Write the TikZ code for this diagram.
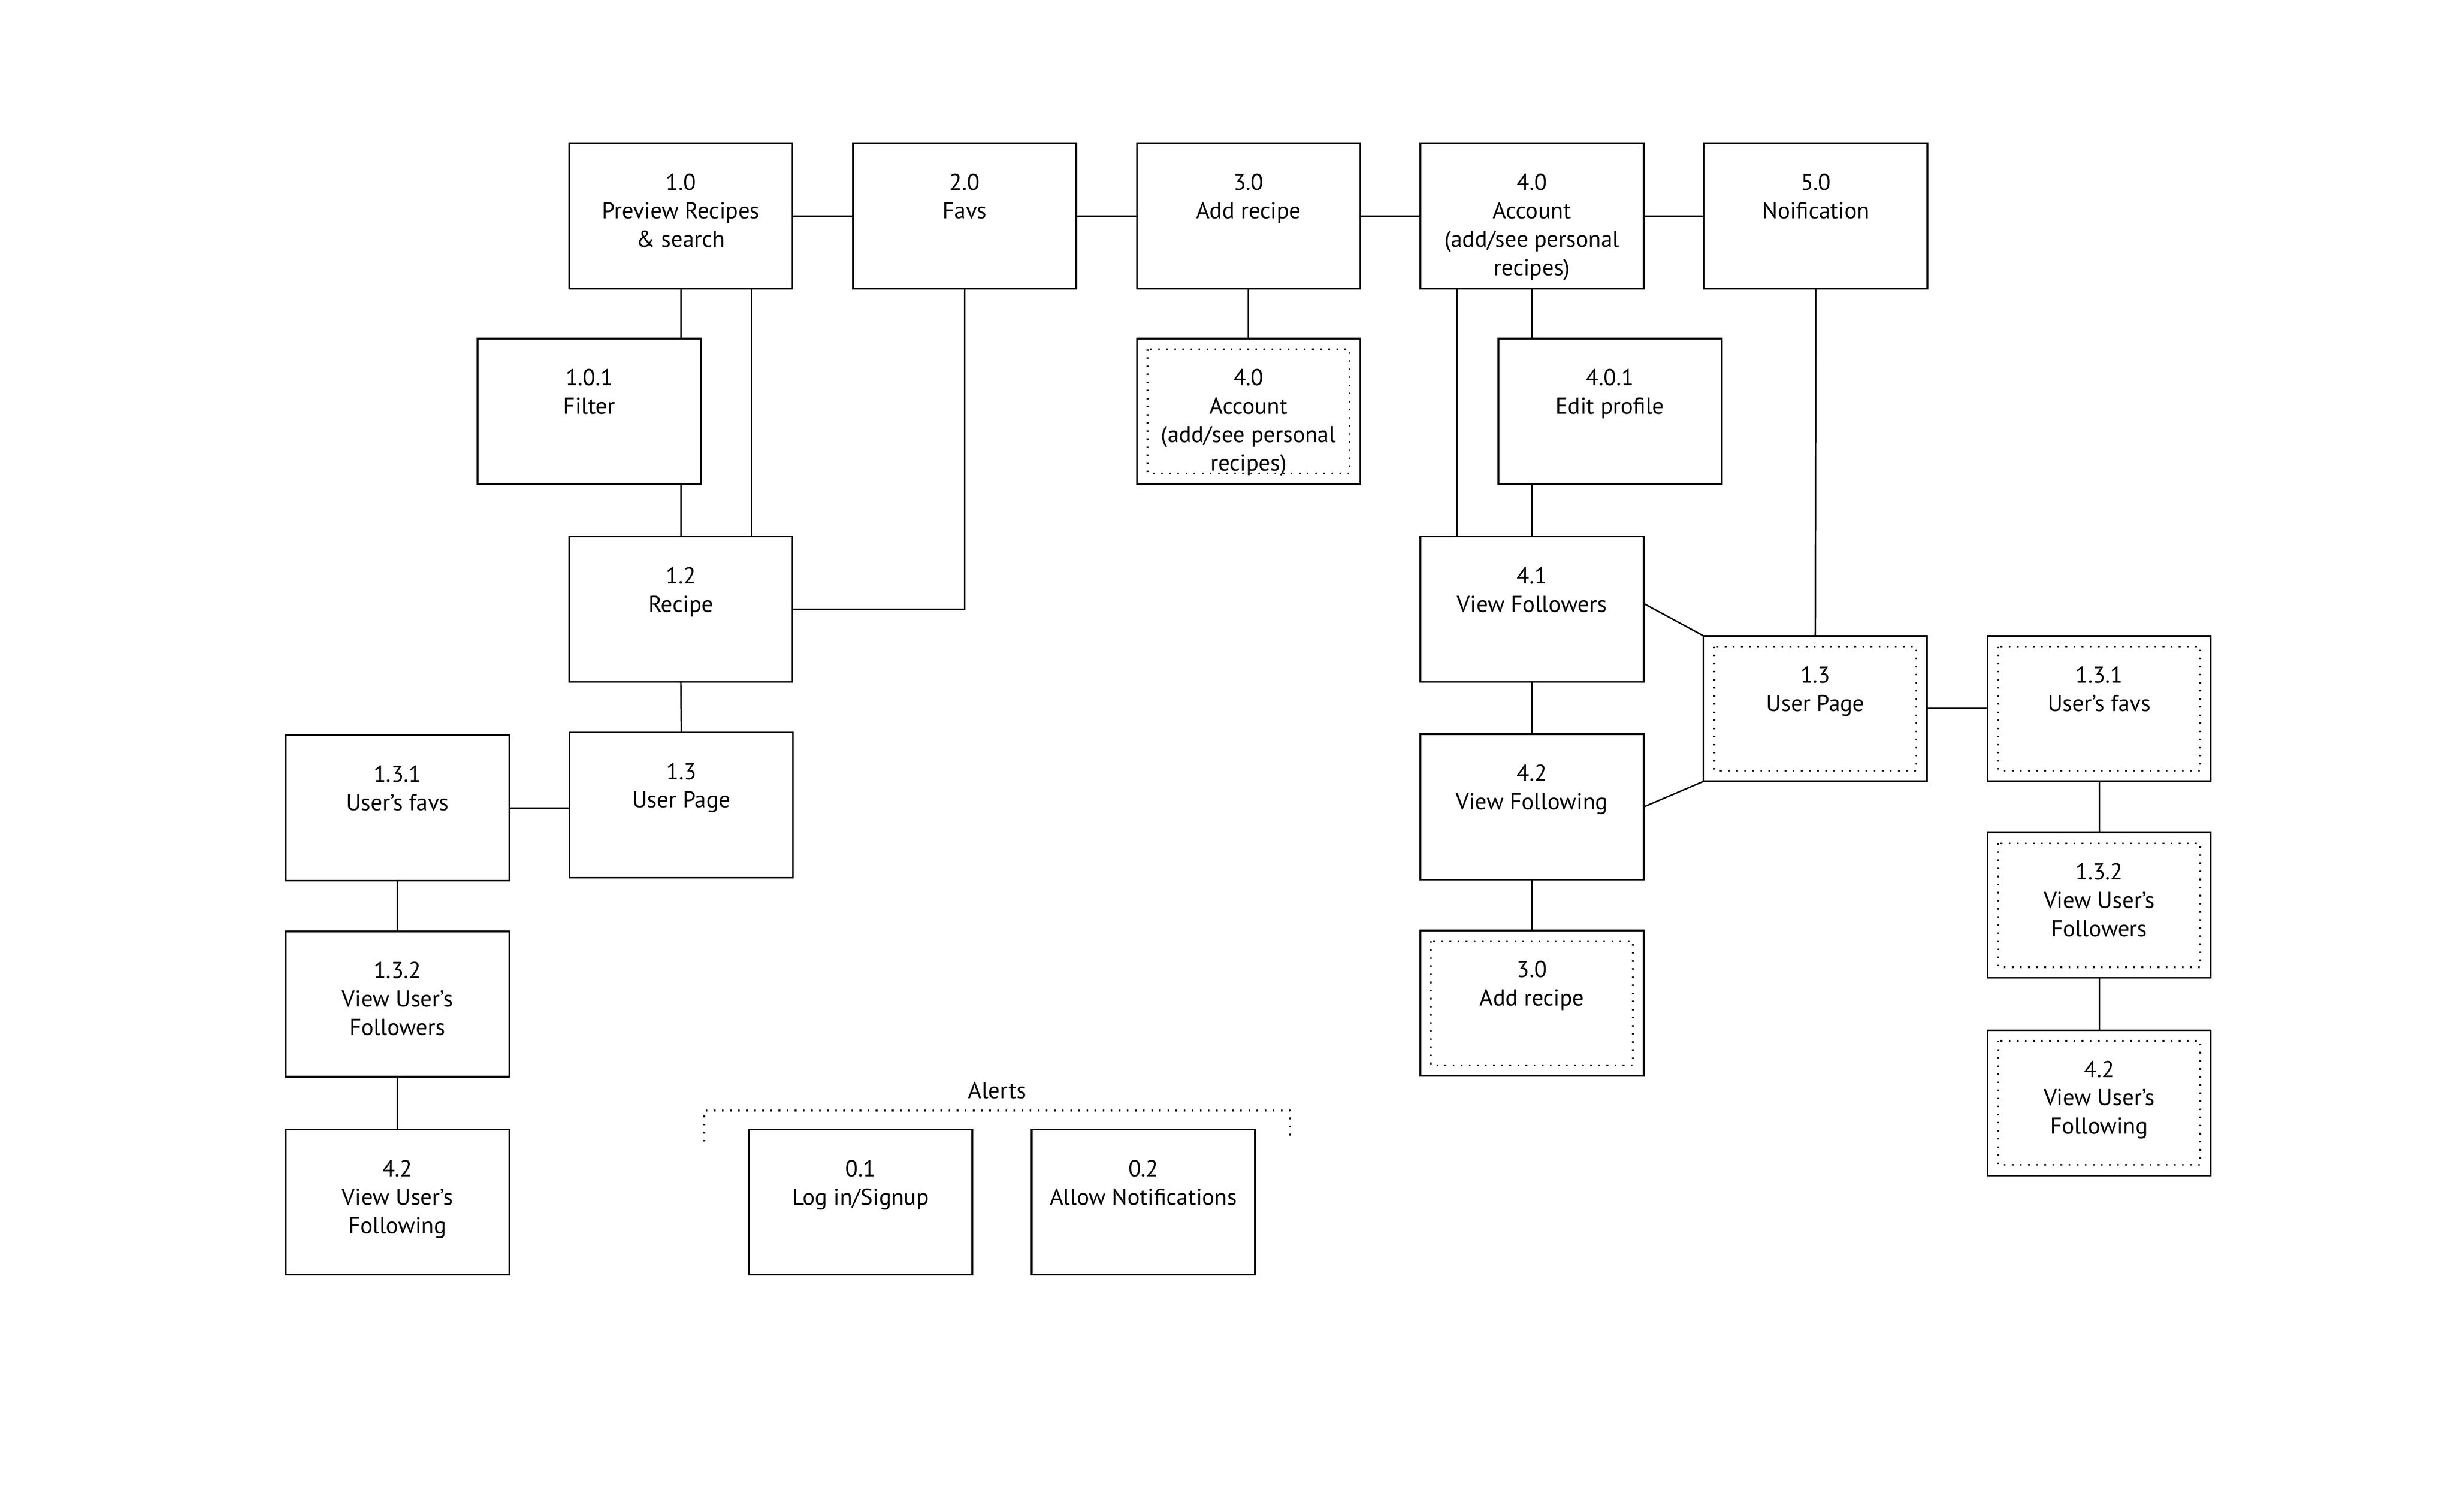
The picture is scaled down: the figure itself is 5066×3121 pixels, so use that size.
\documentclass[tikz,border=0pt]{standalone}
\usepackage{fontspec}
\setmainfont{PT Sans}
\tikzset{
  box/.style={draw, line width=0.9pt, rectangle, minimum width=115.25pt,
    minimum height=75pt, inner sep=0pt, outer sep=0pt, anchor=north west},
  lbl/.style={anchor=base, inner sep=0pt, font=\fontsize{11.9pt}{14.68pt}\selectfont},
  conn/.style={line width=0.75pt},
  dotline/.style={line width=0.85pt, dash pattern=on 0.85pt off 3.33pt},
}
\newcommand\bx[4]{%
  \node[box] (#1) at (#2,#3) {};
  \node[lbl] (#1-t) at ([yshift=-24.25pt]#1.north) {\begin{tabular}[t]{@{}c@{}}#4\end{tabular}};
}
\newcommand\dbx[4]{%
  \bx{#1}{#2}{#3}{#4}
  \draw[dotline] ([shift={(22,22)}]#1.north west) rectangle ([shift={(-22,-22)}]#1.south east);
}
\begin{document}
\begin{tikzpicture}[x=0.25pt, y=-0.25pt]
\fill[white] (0,0) rectangle (5066,3121);
\useasboundingbox (0,0) rectangle (5066,3121);

% top row
\bx{b10}{1175}{296}{1.0\\Preview Recipes\\\& search}
\bx{b20}{1761}{296}{2.0\\Favs}
\bx{b30}{2347}{296}{3.0\\Add recipe}
\bx{b40}{2932}{296}{4.0\\Account\\(add/see personal\\recipes)}
\bx{b50}{3518}{296}{5.0\\Noification}
% second row
\bx{b101}{986}{699}{1.0.1\\Filter}
\dbx{b40d}{2347}{699}{4.0\\Account\\(add/see personal\\recipes)}
\bx{b401}{3093}{699}{4.0.1\\Edit profile}
% third row
\bx{b12}{1175}{1108}{1.2\\Recipe}
\bx{b41}{2932}{1108}{4.1\\View Followers}
\dbx{r13}{3517}{1313}{1.3\\User Page}
\dbx{r131}{4103}{1313}{1.3.1\\User’s favs}
\bx{l131}{590}{1518}{1.3.1\\User’s favs}
\bx{l13}{1176}{1512}{1.3\\User Page}
\bx{b42}{2932}{1516}{4.2\\View Following}
\dbx{r132}{4103}{1719}{1.3.2\\View User’s\\Followers}
\bx{l132}{590}{1923}{1.3.2\\View User’s\\Followers}
\dbx{b30d}{2932}{1921}{3.0\\Add recipe}
\dbx{r42}{4103}{2127}{4.2\\View User’s\\Following}
\bx{l42}{590}{2332}{4.2\\View User’s\\Following}
\bx{b01}{1546}{2332}{0.1\\Log in/Signup}
\bx{b02}{2130}{2332}{0.2\\Allow Notifications}

% alerts group
\node[lbl] (alerts) at (2058.5,2268) {Alerts};
\draw[dotline] (1454,2357) -- (1454,2293) -- (2663,2293) -- (2663,2357);

% connectors
\draw[conn] (b10.east) -- (b20.west);
\draw[conn] (b20.east) -- (b30.west);
\draw[conn] (b30.east) -- (b40.west);
\draw[conn] (b40.east) -- (b50.west);

\draw[conn] (b10.south) -- (b10.south |- b101.north);
\draw[conn] (b10.south |- b101.south) -- (b10.south |- b12.north);
\coordinate (b10a) at ([xshift=36.6pt]b10.south);
\draw[conn] (b10a) -- (b10a |- b12.north);
\draw[conn] (b20.south) |- (b12.east);
\draw[conn] (b30.south) -- (b40d.north);

\coordinate (b40a) at ([xshift=-38.6pt]b40.south);
\draw[conn] (b40a) -- (b40a |- b41.north);
\draw[conn] (b40.south) -- (b40.south |- b401.north);
\draw[conn] (b41.north |- b401.south) -- (b41.north);
\draw[conn] (b50.south) -- (r13.north);

\draw[conn] ([yshift=3pt]b41.east) -- (r13.north west);
\draw[conn] (b42.east) -- (r13.south west);
\draw[conn] (r13.east) -- (r131.west);
\draw[conn] (r131.south) -- (r132.north);
\draw[conn] (r132.south) -- (r42.north);
\draw[conn] (b41.south) -- (b42.north);
\draw[conn] (b42.south) -- (b30d.north);

\draw[conn] (b12.south) -- (l13.north);
\draw[conn] (l131.east) -- (l131.east -| l13.west);
\draw[conn] (l131.south) -- (l132.north);
\draw[conn] (l132.south) -- (l42.north);
\end{tikzpicture}
\end{document}
